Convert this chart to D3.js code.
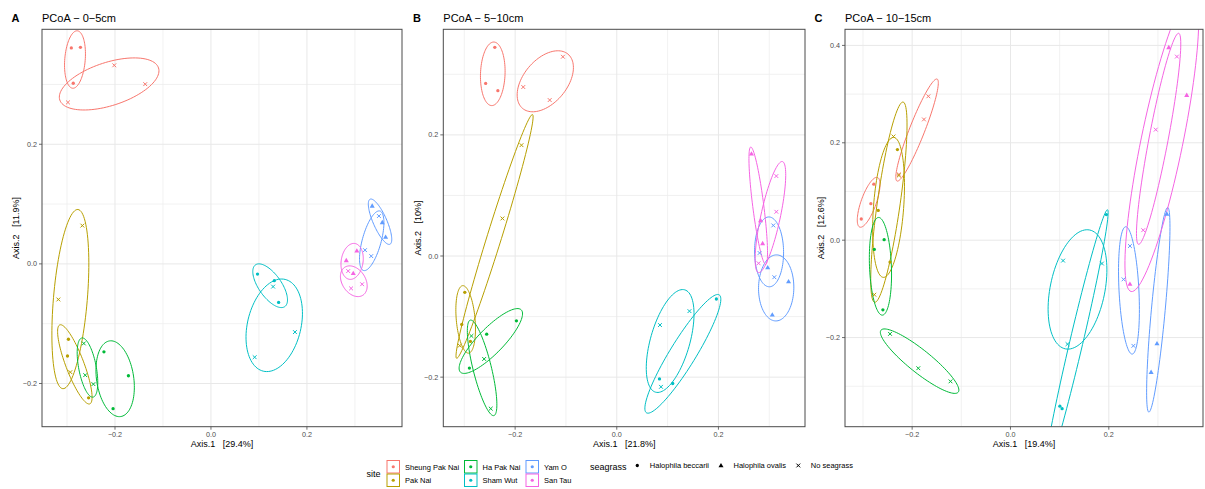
<!DOCTYPE html>
<html>
<head>
<meta charset="utf-8">
<script src="https://cdn.jsdelivr.net/npm/d3@7"></script>
<style>
  body { margin: 0; background: #fff; }
  svg text { font-family: "Liberation Sans", Arial, Helvetica, sans-serif; white-space: pre; }
</style>
</head>
<body>
<svg id="chart" width="1205" height="489"></svg>
<script>
// ---- data -------------------------------------------------------------
const sites = ["Sheung Pak Nai", "Pak Nai", "Ha Pak Nai", "Sham Wut", "Yam O", "San Tau"];
const siteColors = ["#F8766D", "#B79F00", "#00BA38", "#00BFC4", "#619CFF", "#F564E3"];
const seagrassTypes = ["Halophila beccarii", "Halophila ovalis", "No seagrass"];
const panelTags = ["A", "B", "C"];
const panelTitles = ["PCoA \u2212 0\u22125cm", "PCoA \u2212 5\u221210cm", "PCoA \u2212 10\u221215cm"];
const axis1Labels = ["Axis.1   [29.4%]", "Axis.1   [21.8%]", "Axis.1   [19.4%]"];
const axis2Labels = ["Axis.2   [11.9%]", "Axis.2   [10%]", "Axis.2   [12.6%]"];

// PCoA sample scores: [site, seagrass, Axis.1, Axis.2]
const scores0to5 = [
  ["Sheung Pak Nai", "Halophila beccarii", -0.291, 0.361],
  ["Sheung Pak Nai", "Halophila beccarii", -0.272, 0.362],
  ["Sheung Pak Nai", "Halophila beccarii", -0.287, 0.302],
  ["Sheung Pak Nai", "No seagrass", -0.2015, 0.332],
  ["Sheung Pak Nai", "No seagrass", -0.137, 0.3005],
  ["Sheung Pak Nai", "No seagrass", -0.298, 0.270],
  ["Pak Nai", "Halophila beccarii", -0.297, -0.126],
  ["Pak Nai", "Halophila beccarii", -0.299, -0.154],
  ["Pak Nai", "Halophila beccarii", -0.255, -0.224],
  ["Pak Nai", "No seagrass", -0.268, 0.064],
  ["Pak Nai", "No seagrass", -0.318, -0.0595],
  ["Pak Nai", "No seagrass", -0.293, -0.181],
  ["Ha Pak Nai", "Halophila beccarii", -0.223, -0.147],
  ["Ha Pak Nai", "Halophila beccarii", -0.172, -0.187],
  ["Ha Pak Nai", "Halophila beccarii", -0.204, -0.242],
  ["Ha Pak Nai", "No seagrass", -0.265, -0.133],
  ["Ha Pak Nai", "No seagrass", -0.262, -0.186],
  ["Ha Pak Nai", "No seagrass", -0.245, -0.201],
  ["Sham Wut", "Halophila beccarii", 0.097, -0.017],
  ["Sham Wut", "Halophila beccarii", 0.132, -0.028],
  ["Sham Wut", "Halophila beccarii", 0.141, -0.0645],
  ["Sham Wut", "No seagrass", 0.1295, -0.038],
  ["Sham Wut", "No seagrass", 0.175, -0.114],
  ["Sham Wut", "No seagrass", 0.091, -0.156],
  ["Yam O", "Halophila ovalis", 0.336, 0.097],
  ["Yam O", "Halophila ovalis", 0.357, 0.0695],
  ["Yam O", "Halophila ovalis", 0.364, 0.045],
  ["Yam O", "No seagrass", 0.350, 0.080],
  ["Yam O", "No seagrass", 0.321, 0.023],
  ["Yam O", "No seagrass", 0.334, 0.013],
  ["San Tau", "Halophila ovalis", 0.304, 0.022],
  ["San Tau", "Halophila ovalis", 0.282, 0.006],
  ["San Tau", "Halophila ovalis", 0.2965, -0.0155],
  ["San Tau", "No seagrass", 0.286, -0.012],
  ["San Tau", "No seagrass", 0.315, -0.034],
  ["San Tau", "No seagrass", 0.292, -0.041]
];

const scores5to10 = [
  ["Sheung Pak Nai", "Halophila beccarii", -0.240, 0.3445],
  ["Sheung Pak Nai", "Halophila beccarii", -0.258, 0.285],
  ["Sheung Pak Nai", "Halophila beccarii", -0.234, 0.273],
  ["Sheung Pak Nai", "No seagrass", -0.106, 0.329],
  ["Sheung Pak Nai", "No seagrass", -0.184, 0.279],
  ["Sheung Pak Nai", "No seagrass", -0.132, 0.2575],
  ["Pak Nai", "Halophila beccarii", -0.299, -0.060],
  ["Pak Nai", "Halophila beccarii", -0.305, -0.113],
  ["Pak Nai", "Halophila beccarii", -0.288, -0.141],
  ["Pak Nai", "No seagrass", -0.1875, 0.183],
  ["Pak Nai", "No seagrass", -0.225, 0.062],
  ["Pak Nai", "No seagrass", -0.309, -0.148],
  ["Ha Pak Nai", "Halophila beccarii", -0.1975, -0.107],
  ["Ha Pak Nai", "Halophila beccarii", -0.256, -0.129],
  ["Ha Pak Nai", "Halophila beccarii", -0.290, -0.185],
  ["Ha Pak Nai", "No seagrass", -0.286, -0.132],
  ["Ha Pak Nai", "No seagrass", -0.261, -0.170],
  ["Ha Pak Nai", "No seagrass", -0.248, -0.252],
  ["Sham Wut", "Halophila beccarii", 0.196, -0.071],
  ["Sham Wut", "Halophila beccarii", 0.084, -0.203],
  ["Sham Wut", "Halophila beccarii", 0.110, -0.2105],
  ["Sham Wut", "No seagrass", 0.085, -0.114],
  ["Sham Wut", "No seagrass", 0.143, -0.091],
  ["Sham Wut", "No seagrass", 0.087, -0.216],
  ["Yam O", "Halophila ovalis", 0.297, -0.019],
  ["Yam O", "Halophila ovalis", 0.338, -0.042],
  ["Yam O", "Halophila ovalis", 0.306, -0.097],
  ["Yam O", "No seagrass", 0.308, 0.0505],
  ["Yam O", "No seagrass", 0.281, 0.005],
  ["Yam O", "No seagrass", 0.310, -0.035],
  ["San Tau", "Halophila ovalis", 0.265, 0.169],
  ["San Tau", "Halophila ovalis", 0.283, 0.059],
  ["San Tau", "Halophila ovalis", 0.287, 0.021],
  ["San Tau", "No seagrass", 0.314, 0.132],
  ["San Tau", "No seagrass", 0.314, 0.073],
  ["San Tau", "No seagrass", 0.279, -0.012]
];

const scores10to15 = [
  ["Sheung Pak Nai", "Halophila beccarii", -0.278, 0.115],
  ["Sheung Pak Nai", "Halophila beccarii", -0.284, 0.075],
  ["Sheung Pak Nai", "Halophila beccarii", -0.3035, 0.0435],
  ["Sheung Pak Nai", "No seagrass", -0.167, 0.2955],
  ["Sheung Pak Nai", "No seagrass", -0.176, 0.248],
  ["Sheung Pak Nai", "No seagrass", -0.227, 0.135],
  ["Pak Nai", "Halophila beccarii", -0.230, 0.186],
  ["Pak Nai", "Halophila beccarii", -0.269, 0.061],
  ["Pak Nai", "Halophila beccarii", -0.245, -0.045],
  ["Pak Nai", "No seagrass", -0.238, 0.213],
  ["Pak Nai", "No seagrass", -0.227, 0.133],
  ["Pak Nai", "No seagrass", -0.277, -0.112],
  ["Ha Pak Nai", "Halophila beccarii", -0.257, 0.001],
  ["Ha Pak Nai", "Halophila beccarii", -0.277, -0.019],
  ["Ha Pak Nai", "Halophila beccarii", -0.2595, -0.143],
  ["Ha Pak Nai", "No seagrass", -0.245, -0.1925],
  ["Ha Pak Nai", "No seagrass", -0.1875, -0.263],
  ["Ha Pak Nai", "No seagrass", -0.122, -0.290],
  ["Sham Wut", "Halophila beccarii", 0.1005, -0.341],
  ["Sham Wut", "Halophila beccarii", 0.105, -0.346],
  ["Sham Wut", "Halophila beccarii", 0.195, 0.0525],
  ["Sham Wut", "No seagrass", 0.107, -0.042],
  ["Sham Wut", "No seagrass", 0.186, -0.048],
  ["Sham Wut", "No seagrass", 0.116, -0.2135],
  ["Yam O", "Halophila ovalis", 0.318, 0.054],
  ["Yam O", "Halophila ovalis", 0.298, -0.212],
  ["Yam O", "Halophila ovalis", 0.286, -0.271],
  ["Yam O", "No seagrass", 0.243, -0.012],
  ["Yam O", "No seagrass", 0.230, -0.0805],
  ["Yam O", "No seagrass", 0.250, -0.217],
  ["San Tau", "Halophila ovalis", 0.322, 0.396],
  ["San Tau", "Halophila ovalis", 0.3585, 0.298],
  ["San Tau", "Halophila ovalis", 0.243, -0.090],
  ["San Tau", "No seagrass", 0.3385, 0.377],
  ["San Tau", "No seagrass", 0.2955, 0.227],
  ["San Tau", "No seagrass", 0.270, 0.0205]
];

const panelScores = [scores0to5, scores5to10, scores10to15];

// ---- layout -----------------------------------------------------------
const svg = d3.select("#chart");
const panelLeft = [42, 443.3, 845];
const panelRight = [402, 805, 1203];
const plotTop = 29.3, plotBottom = 426.7;
const yTitleX = [19, 420.5, 823.5];
const tagX = [11.5, 413, 814.5];
const ellipseExpand = 5;     // padding added round each enclosing ellipse (px)

const color = d3.scaleOrdinal().domain(sites).range(siteColors);
const fmt = v => d3.format(".1f")(v).replace("-", "\u2212");

// minimum-area enclosing ellipse (Khachiyan) of points given in px
function enclosingEllipse(pts) {
  const uniq = [];
  pts.forEach(p => { if (!uniq.some(q => Math.hypot(q[0] - p[0], q[1] - p[1]) < 0.05)) uniq.push(p); });
  const mx = d3.mean(uniq, p => p[0]), my = d3.mean(uniq, p => p[1]);
  const P = uniq.map(p => [p[0] - mx, p[1] - my]);
  const n = P.length;
  if (n === 1) return { cx: mx, cy: my, a: 0, b: 0, angle: 0 };
  let sxx = 0, syy = 0, sxy = 0;
  P.forEach(p => { sxx += p[0] * p[0]; syy += p[1] * p[1]; sxy += p[0] * p[1]; });
  const det = sxx * syy - sxy * sxy;
  if (n === 2 || det < 1e-6 * (sxx + syy) * (sxx + syy)) {
    const ang = 0.5 * Math.atan2(2 * sxy, sxx - syy);
    const ux = Math.cos(ang), uy = Math.sin(ang);
    const proj = P.map(p => p[0] * ux + p[1] * uy);
    const lo = d3.min(proj), hi = d3.max(proj), mid = (lo + hi) / 2;
    return { cx: mx + ux * mid, cy: my + uy * mid, a: (hi - lo) / 2, b: 0, angle: ang };
  }
  let u = new Array(n).fill(1 / n);
  for (let it = 0; it < 5000; it++) {
    const X = [[0, 0, 0], [0, 0, 0], [0, 0, 0]];
    P.forEach((p, i) => {
      const q = [p[0], p[1], 1];
      for (let r = 0; r < 3; r++) for (let c = 0; c < 3; c++) X[r][c] += u[i] * q[r] * q[c];
    });
    const Xi = inv3(X);
    let maxM = -Infinity, j = 0;
    P.forEach((p, i) => {
      const q = [p[0], p[1], 1];
      let m = 0;
      for (let r = 0; r < 3; r++) for (let c = 0; c < 3; c++) m += q[r] * Xi[r][c] * q[c];
      if (m > maxM) { maxM = m; j = i; }
    });
    const step = (maxM - 3) / (3 * (maxM - 1));
    const nu = u.map(v => v * (1 - step));
    nu[j] += step;
    const err = Math.sqrt(d3.sum(nu, (v, i) => (v - u[i]) ** 2));
    u = nu;
    if (err < 1e-9) break;
  }
  const cx = d3.sum(P, (p, i) => u[i] * p[0]);
  const cy = d3.sum(P, (p, i) => u[i] * p[1]);
  const Sxx = d3.sum(P, (p, i) => u[i] * p[0] * p[0]) - cx * cx;
  const Syy = d3.sum(P, (p, i) => u[i] * p[1] * p[1]) - cy * cy;
  const Sxy = d3.sum(P, (p, i) => u[i] * p[0] * p[1]) - cx * cy;
  const mean = (Sxx + Syy) / 2, rad = Math.sqrt(((Sxx - Syy) / 2) ** 2 + Sxy * Sxy);
  const l1 = mean + rad, l2 = Math.max(mean - rad, 0);
  const angle = 0.5 * Math.atan2(2 * Sxy, Sxx - Syy);
  return { cx: cx + mx, cy: cy + my, a: Math.sqrt(2 * l1), b: Math.sqrt(2 * l2), angle };
}

function inv3(m) {
  const [a, b, c] = m[0], [d, e, f] = m[1], [g, h, i] = m[2];
  const A = e * i - f * h, B = -(d * i - f * g), C = d * h - e * g;
  const det = a * A + b * B + c * C;
  return [
    [A / det, -(b * i - c * h) / det, (b * f - c * e) / det],
    [B / det, (a * i - c * g) / det, -(a * f - c * d) / det],
    [C / det, -(a * h - b * g) / det, (a * e - b * d) / det]
  ];
}

function ellipsePath(el) {
  const a = el.a + ellipseExpand, b = el.b + ellipseExpand;
  const ca = Math.cos(el.angle), sa = Math.sin(el.angle);
  const pts = d3.range(0, 101).map(k => {
    const t = (k / 100) * 2 * Math.PI;
    const x = a * Math.cos(t), y = b * Math.sin(t);
    return [el.cx + x * ca - y * sa, el.cy + x * sa + y * ca];
  });
  return d3.line()(pts) + "Z";
}

function drawSymbol(g, shape, x, y, fill) {
  if (shape === "Halophila beccarii") {
    g.append("circle").attr("cx", x).attr("cy", y).attr("r", 1.65).attr("fill", fill);
  } else if (shape === "Halophila ovalis") {
    g.append("path").attr("transform", `translate(${x},${y + 0.4})`)
      .attr("d", d3.symbol(d3.symbolTriangle, 11)()).attr("fill", fill);
  } else {
    const s = 1.9;
    g.append("path")
      .attr("d", `M${x - s},${y - s}L${x + s},${y + s}M${x - s},${y + s}L${x + s},${y - s}`)
      .attr("stroke", fill).attr("stroke-width", 1).attr("fill", "none");
  }
}

function expandExtent(vals) {
  const [lo, hi] = d3.extent(vals);
  const pad = (hi - lo) * 0.05;
  return [lo - pad, hi + pad];
}

function drawPanel(idx) {
  const rows = panelScores[idx];
  const left = panelLeft[idx], right = panelRight[idx];
  const x = d3.scaleLinear().domain(expandExtent(rows.map(r => r[2]))).range([left, right]);
  const y = d3.scaleLinear().domain(expandExtent(rows.map(r => r[3]))).range([plotBottom, plotTop]);
  const g = svg.append("g");

  g.append("rect").attr("x", left).attr("y", plotTop)
    .attr("width", right - left).attr("height", plotBottom - plotTop).attr("fill", "#fff");

  const clipId = "clip" + idx;
  g.append("clipPath").attr("id", clipId).append("rect")
    .attr("x", left).attr("y", plotTop).attr("width", right - left).attr("height", plotBottom - plotTop);

  // grid: 0.1 steps, majors at multiples of 0.2
  const gridVals = dom => d3.range(Math.ceil(dom[0] * 10), Math.floor(dom[1] * 10) + 1).map(k => k / 10);
  const isMajor = v => Math.abs(Math.round(v * 10)) % 2 === 0;
  const xg = gridVals(x.domain()), yg = gridVals(y.domain());
  const grid = g.append("g");
  [false, true].forEach(major => {
    xg.filter(v => isMajor(v) === major).forEach(v => {
      grid.append("line").attr("x1", x(v)).attr("x2", x(v)).attr("y1", plotTop).attr("y2", plotBottom)
        .attr("stroke", major ? "#e8e8e8" : "#eeeeee").attr("stroke-width", major ? 1 : 0.8);
    });
    yg.filter(v => isMajor(v) === major).forEach(v => {
      grid.append("line").attr("y1", y(v)).attr("y2", y(v)).attr("x1", left).attr("x2", right)
        .attr("stroke", major ? "#e8e8e8" : "#eeeeee").attr("stroke-width", major ? 1 : 0.8);
    });
  });

  // enclosing ellipses per site x seagrass group
  const groups = d3.groups(rows, r => r[0], r => r[1]);
  const ell = g.append("g").attr("clip-path", `url(#${clipId})`);
  groups.forEach(([site, byType]) => {
    byType.forEach(([type, members]) => {
      const el = enclosingEllipse(members.map(r => [x(r[2]), y(r[3])]));
      ell.append("path").attr("d", ellipsePath(el)).attr("fill", "none")
        .attr("stroke", color(site)).attr("stroke-width", 1);
    });
  });

  // points
  const pts = g.append("g").attr("clip-path", `url(#${clipId})`);
  rows.forEach(r => drawSymbol(pts, r[1], x(r[2]), y(r[3]), color(r[0])));

  // border
  g.append("rect").attr("x", left).attr("y", plotTop)
    .attr("width", right - left).attr("height", plotBottom - plotTop)
    .attr("fill", "none").attr("stroke", "#4a4a4a").attr("stroke-width", 1);

  // ticks and labels
  const xMaj = xg.filter(isMajor), yMaj = yg.filter(isMajor);
  xMaj.forEach(v => {
    g.append("line").attr("x1", x(v)).attr("x2", x(v)).attr("y1", plotBottom).attr("y2", plotBottom + 3)
      .attr("stroke", "#4a4a4a").attr("stroke-width", 0.8);
    g.append("text").attr("x", x(v)).attr("y", plotBottom + 10.2).attr("text-anchor", "middle")
      .attr("font-size", 7.2).attr("fill", "#4d4d4d").text(fmt(v));
  });
  yMaj.forEach(v => {
    g.append("line").attr("x1", left - 3).attr("x2", left).attr("y1", y(v)).attr("y2", y(v))
      .attr("stroke", "#4a4a4a").attr("stroke-width", 0.8);
    g.append("text").attr("x", left - 5).attr("y", y(v) + 2.5).attr("text-anchor", "end")
      .attr("font-size", 7.2).attr("fill", "#4d4d4d").text(fmt(v));
  });

  // titles
  g.append("text").attr("x", (left + right) / 2).attr("y", 446.5).attr("text-anchor", "middle")
    .attr("font-size", 9).attr("fill", "#000").text(axis1Labels[idx]);
  g.append("text").attr("transform", `translate(${yTitleX[idx]},${(plotTop + plotBottom) / 2}) rotate(-90)`)
    .attr("text-anchor", "middle").attr("font-size", 9).attr("fill", "#000").text(axis2Labels[idx]);
  g.append("text").attr("x", left).attr("y", 22).attr("font-size", 11).attr("fill", "#000")
    .text(panelTitles[idx]);
  g.append("text").attr("x", tagX[idx]).attr("y", 22).attr("font-size", 11).attr("font-weight", "bold")
    .attr("fill", "#000").text(panelTags[idx]);
}

[0, 1, 2].forEach(drawPanel);

// ---- legend -----------------------------------------------------------
const leg = svg.append("g");
leg.append("text").attr("x", 366.5).attr("y", 476.5).attr("font-size", 9).text("site");
const colX = [387, 464.5, 526];
sites.forEach((s, i) => {
  const col = Math.floor(i / 2), row = i % 2;
  const bx = colX[col], by = 460.5 + row * 13.5;
  leg.append("rect").attr("x", bx).attr("y", by).attr("width", 12.5).attr("height", 12.5)
    .attr("fill", "#fff").attr("stroke", color(s)).attr("stroke-width", 1);
  leg.append("circle").attr("cx", bx + 6.25).attr("cy", by + 6.25).attr("r", 1.6).attr("fill", color(s));
  leg.append("text").attr("x", bx + 18).attr("y", by + 9).attr("font-size", 7.5).attr("fill", "#000").text(s);
});
leg.append("text").attr("x", 590).attr("y", 469.5).attr("font-size", 9).text("seagrass");
const sgKeyX = [637.3, 721, 798.3];
seagrassTypes.forEach((t, i) => {
  drawSymbol(leg, t, sgKeyX[i], 465.5, "#000");
  leg.append("text").attr("x", sgKeyX[i] + 12.5).attr("y", 468.3).attr("font-size", 7.5).attr("fill", "#000").text(t);
});
</script>
</body>
</html>
